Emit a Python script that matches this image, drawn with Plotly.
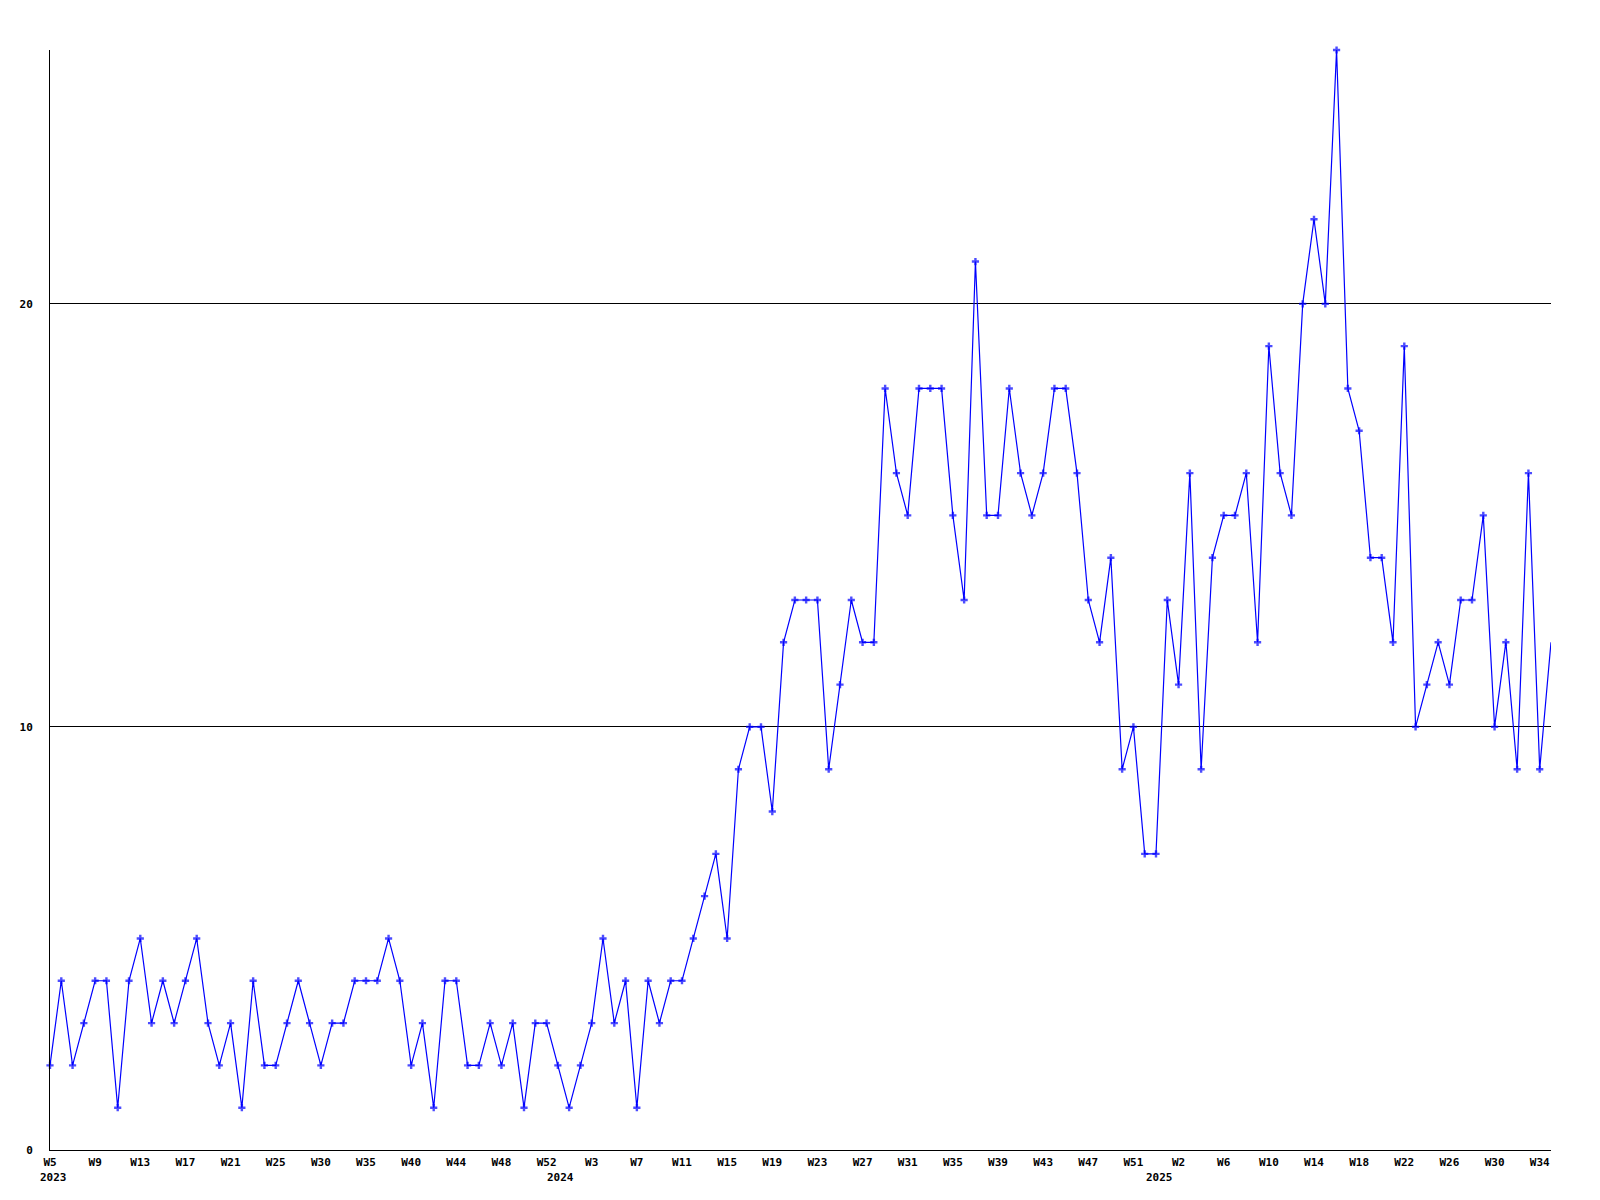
import plotly.graph_objects as go

# Weekly values (2023 W5 .. 2025 W35)
values = [
    2, 4, 2, 3, 4, 4, 1, 4, 5, 3, 4, 3, 4, 5, 3, 2, 3, 1, 4, 2, 2, 3, 4, 3, 2, 3, 3, 4, 4, 4, 5, 4, 2, 3, 1,
    4, 4, 2, 2, 3, 2, 3, 1, 3, 3, 2, 1, 2, 3, 5, 3, 4, 1, 4, 3, 4, 4, 5, 6, 7, 5,
    9, 10, 10, 8, 12, 13, 13, 13, 9, 11, 13, 12, 12, 18, 16, 15, 18, 18, 18, 15, 13, 21, 15, 15, 18,
    16, 15, 16, 18, 18, 16, 13, 12, 14, 9, 10, 7, 7, 13, 11, 16, 9, 14, 15, 15, 16, 12, 19, 16, 15,
    20, 22, 20, 26, 18, 17, 14, 14, 12, 19, 10, 11, 12, 11, 13, 13, 15, 10, 12, 9, 16, 9, 12,
]

week_labels = [
    "W5", "W9", "W13", "W17", "W21", "W25", "W30", "W35", "W40", "W44", "W48", "W52",
    "W3", "W7", "W11", "W15", "W19", "W23", "W27", "W31", "W35", "W39", "W43", "W47", "W51",
    "W2", "W6", "W10", "W14", "W18", "W22", "W26", "W30", "W34",
]
label_step = 4

years = ["2023", "2024", "2025"]
year_index = [0, 45, 98]

y_ticks = [0, 10, 20]

n = len(values)
x = list(range(n))
tickvals = [i * label_step for i in range(len(week_labels))]

font = dict(family="DejaVu Sans Mono", size=11, color="black", weight="bold")

sizes = [6] * (n - 1) + [0]

fig = go.Figure()
fig.add_trace(go.Scatter(
    x=x, y=values, mode="lines+markers",
    line=dict(color="#0000ff", width=1.2),
    marker=dict(symbol="cross", size=sizes, color="#0000ff", line=dict(width=0)),
    cliponaxis=False,
    hoverinfo="skip",
))

for yr, idx in zip(years, year_index):
    fig.add_annotation(
        x=idx, xref="x", y=0, yref="paper", yshift=-27, xshift=3,
        text=yr, showarrow=False, font=font, xanchor="center", yanchor="middle",
    )

# page body has an 8px margin, so the figure is offset accordingly
fig.update_layout(
    width=1584, height=1184,
    margin=dict(l=42, r=41, t=42, b=42),
    paper_bgcolor="white", plot_bgcolor="white",
    showlegend=False,
)
fig.update_xaxes(
    range=[0, n - 1], tickmode="array", tickvals=tickvals, ticktext=week_labels,
    showgrid=False, zeroline=False, showline=True, linecolor="black", linewidth=1,
    ticks="", tickfont=font, ticklabelstandoff=2,
)
fig.update_yaxes(
    range=[0, 26], tickmode="array", tickvals=y_ticks, ticktext=[str(v) for v in y_ticks],
    showgrid=True, gridcolor="black", gridwidth=1, zeroline=False,
    showline=True, linecolor="black", linewidth=1,
    ticks="", tickfont=font, ticklabelstandoff=14,
)

fig.write_html("out.html")
